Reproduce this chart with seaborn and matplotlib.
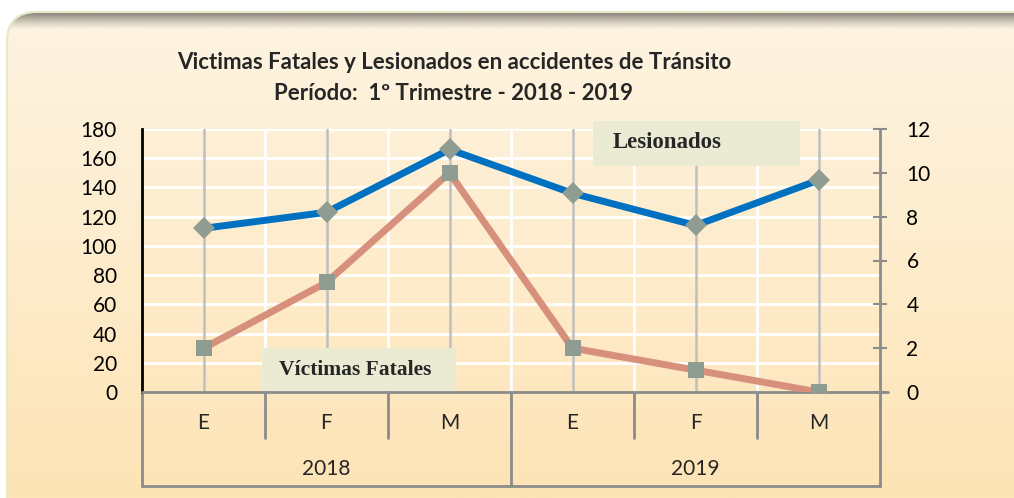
import numpy as np
import matplotlib
matplotlib.use("Agg")
import matplotlib.pyplot as plt
from matplotlib.patches import FancyBboxPatch, Rectangle
import seaborn as sns

# data
meses = ["E", "F", "M", "E", "F", "M"]
anios = ["2018", "2019"]
lesionados = [112, 123, 166, 136, 114, 145]
victimas_fatales = [2, 5, 10, 2, 1, 0]
left_ticks = [0, 20, 40, 60, 80, 100, 120, 140, 160, 180]
right_ticks = [0, 2, 4, 6, 8, 10, 12]

title = "Victimas Fatales y Lesionados en accidentes de Tránsito\nPeríodo:  1º Trimestre - 2018 - 2019"

sns.set_style("white")
plt.rcParams["font.family"] = ["Lato", "DejaVu Sans"]

W, H = 1014, 498
fig = plt.figure(figsize=(W / 100, H / 100), dpi=100)
fig.patch.set_facecolor("white")

# background panel with gradient and rounded frame
bg = fig.add_axes([0, 0, 1, 1])
bg.set_xlim(0, W)
bg.set_ylim(H, 0)
bg.axis("off")
frame = FancyBboxPatch((7, 12), 1040, 520, boxstyle="round,pad=0,rounding_size=30",
                       facecolor="none", edgecolor="#E4E9C6", lw=1.5, zorder=3)
bg.add_patch(frame)
top_c = np.array([253, 244, 226]) / 255
bot_c = np.array([254, 228, 182]) / 255
t = np.linspace(0, 1, 256)[:, None]
grad = (top_c * (1 - t) + bot_c * t)[:, None, :]
im = bg.imshow(grad, extent=(0, W, H, 12), aspect="auto", zorder=1)
im.set_clip_path(frame)
# inner shadow at the top
sh = np.zeros((40, 1, 4))
sh[..., :3] = np.array([130, 125, 115]) / 255
sh[:, 0, 3] = np.linspace(0.95, 0.0, 40) ** 1.3
im2 = bg.imshow(sh, extent=(0, W, 30, 13), aspect="auto", zorder=2)
im2.set_clip_path(frame)

# main axes
ax = fig.add_axes([142 / W, 1 - 392 / H, 738 / W, 263 / H])
ax.set_facecolor("none")
ax2 = ax.twinx()
ax.set_zorder(2)
ax2.set_zorder(3)

pos = np.arange(len(meses))
marker_c = "#8E9C92"

# grid
for v in left_ticks[1:]:
    ax.axhline(v, color="white", lw=2, zorder=0.5)
for i in pos:
    ax.axvline(i, color="#BFBFBF", lw=1.8, zorder=0.6)
    if i > 0:
        ax.axvline(i - 0.5, color="white", lw=2, zorder=0.5)

sns.lineplot(x=pos, y=lesionados, ax=ax, color="#0070C0", lw=5, marker="D",
             markersize=11, markerfacecolor=marker_c, markeredgewidth=0, zorder=4)
sns.lineplot(x=pos, y=victimas_fatales, ax=ax2, color="#D6907C", lw=5, marker="s",
             markersize=11, markerfacecolor=marker_c, markeredgewidth=0, zorder=4)

ax.set_xlim(-0.5, len(meses) - 0.5)
ax.set_ylim(0, 180)
ax2.set_ylim(0, 12)
ax.set_yticks(left_ticks)
ax2.set_yticks(right_ticks)
ax.set_xticks([])
ax2.set_xticks([])
ax.set_xlabel("")
ax.set_ylabel("")
ax2.set_ylabel("")
ax.tick_params(axis="y", length=0, pad=18, labelsize=15, colors="black")
ax2.tick_params(axis="y", direction="inout", length=10, width=1.5, color="#8C8C8C",
                pad=14, labelsize=15, labelcolor="black")
for s in ["top", "bottom", "right"]:
    ax.spines[s].set_visible(False)
for s in ["top", "bottom", "left"]:
    ax2.spines[s].set_visible(False)
ax.spines["left"].set_color("black")
ax.spines["left"].set_linewidth(2)
ax2.spines["right"].set_color("#8C8C8C")
ax2.spines["right"].set_linewidth(2)

# series label boxes
ax.add_patch(Rectangle((0.611, 0.859), 0.2805, 0.172, transform=ax.transAxes,
                       facecolor="#EBEBD3", edgecolor="none", zorder=2, clip_on=False))
ax.text(0.638, 0.947, "Lesionados", transform=ax.transAxes, ha="left", va="center",
        family="Liberation Serif", fontweight="bold", fontsize=16.5, zorder=3)
ax.add_patch(Rectangle((0.1626, 0.0), 0.263, 0.167, transform=ax.transAxes,
                       facecolor="#EBEBD3", edgecolor="none", zorder=2))
ax.text(0.186, 0.084, "Víctimas Fatales", transform=ax.transAxes, ha="left", va="center",
        family="Liberation Serif", fontweight="bold", fontsize=15.5, zorder=3)

# two level category axis
tr = ax.get_xaxis_transform()
gc = "#8C8C8C"
ax.plot([-0.5, 5.565], [0, 0], transform=tr, color=gc, lw=2, clip_on=False, zorder=5)
y1, y2 = -46 / 263, -94 / 263
for b in np.arange(-0.5, len(meses), 1.0):
    bottom = y2 if b in (-0.5, 2.5, 5.5) else y1
    ax.plot([b, b], [0, bottom], transform=tr, color=gc, lw=2, clip_on=False)
ax.plot([-0.5, 5.5], [y2, y2], transform=tr, color=gc, lw=2, clip_on=False)
for i, m in zip(pos, meses):
    ax.text(i, -31 / 263, m, transform=tr, ha="center", va="center", fontsize=15)
for j, a in enumerate(anios):
    ax.text(1 + 3 * j, -77 / 263, a, transform=tr, ha="center", va="center", fontsize=15)

fig.text(454 / W, 1 - 78 / H, title, ha="center", va="center", fontsize=16,
         fontweight="bold", linespacing=1.6)

fig.savefig("out.png", dpi=100)
